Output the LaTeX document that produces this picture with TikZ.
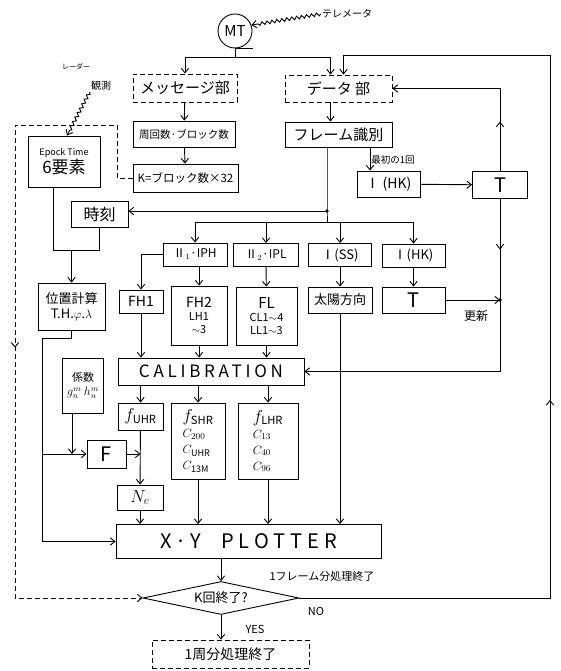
\documentclass[tikz,border=0pt]{standalone}
\usepackage{amsmath}
\usepackage{fontspec}
\setmainfont{Noto Sans CJK JP}
\usetikzlibrary{arrows.meta,shapes.geometric,decorations.pathmorphing,decorations.markings}
\newcommand{\fsz}[2]{\fontsize{#1}{#2}\selectfont}
\tikzset{
  box/.style={draw,line width=0.9pt,inner sep=1pt,align=center,font=\fsz{13}{15}},
  dbox/.style={box,dash pattern=on 5pt off 3pt},
  lbl/.style={inner sep=1pt,font=\fsz{10}{12}},
  midarrow/.style={postaction={decorate,decoration={markings,mark=at position #1 with {\arrow{>}}}}},
  wave/.style={decorate,decoration={snake,amplitude=1.6pt,segment length=5pt,post length=5pt}}
}
\begin{document}
\begin{tikzpicture}[x=1pt,y=-1pt,>={Straight Barb[length=1.6mm,width=2.6mm]},line width=0.9pt]
\useasboundingbox (0,0) rectangle (561,671);
\node[draw,circle,minimum size=34pt,inner sep=0pt,font=\fsz{15}{15}] (mt) at (235,31) {MT};
\node[lbl] (tele) at (347,14) {テレメータ};
\node[lbl,font=\fsz{7}{8}] (rdr1) at (76,67) {レーダー};
\node[lbl] (rdr2) at (101,86) {観測};
\node[dbox,minimum width=104pt,minimum height=28pt,font=\fsz{15}{15}] (msg) at (185,88) {メッセージ部};
\node[dbox,minimum width=107pt,minimum height=27pt,font=\fsz{15}{15}] (dat) at (338.5,88.5) {データ\ 部};
\node[box,minimum width=102pt,minimum height=26pt,font=\fsz{10.5}{12}] (cnt) at (184,134) {周回数·ブロック数};
\node[box,minimum width=105pt,minimum height=28pt,font=\fsz{11.5}{12}] (kk) at (185.5,178) {K=ブロック数×32};
\node[box,minimum width=107pt,minimum height=25pt,font=\fsz{15}{15}] (frm) at (338.5,134.5) {フレーム識別};
\node[box,minimum width=63pt,minimum height=26pt,font=\fsz{14}{14}] (hk1) at (388.5,184) {Ⅰ (HK)};
\node[box,minimum width=55pt,minimum height=27pt,font=\fsz{20}{20}] (t1) at (500,185) {T};
\node[box,minimum width=72pt,minimum height=51pt] (epo) at (64,161.5) {{\fsz{9}{12}Epock Time}\\{\fsz{17}{19}6要素}};
\node[box,minimum width=57pt,minimum height=26pt,font=\fsz{16}{16}] (jkk) at (99.5,214) {時刻};
\node[box,minimum width=64pt,minimum height=23pt,font=\fsz{12}{12}] (ii1) at (195,254.5) {Ⅱ$_1$·IPH};
\node[box,minimum width=65pt,minimum height=23pt,font=\fsz{12}{12}] (ii2) at (266,255) {Ⅱ$_2$·IPL};
\node[box,minimum width=63pt,minimum height=23pt,font=\fsz{13}{13}] (iss) at (340,255) {Ⅰ(SS)};
\node[box,minimum width=63pt,minimum height=23pt,font=\fsz{13}{13}] (ihk) at (413.5,255.5) {Ⅰ(HK)};
\node[box,minimum width=67pt,minimum height=47pt] (pos) at (71.5,306.5) {位置計算\\T.H.$\varphi$.$\lambda$};
\node[box,minimum width=44pt,minimum height=23pt,font=\fsz{14}{14}] (fh1) at (141,301.5) {FH1};
\node[box,minimum width=56pt,minimum height=59pt,font=\fsz{11}{13}] (fh2) at (199,315.5) {{\fsz{14}{16}FH2}\\LH1\\$\sim$3};
\node[box,minimum width=61pt,minimum height=58pt,font=\fsz{11}{13}] (fl) at (266.5,316) {{\fsz{15}{16}FL}\\CL1$\sim$4\\LL1$\sim$3};
\node[box,minimum width=64pt,minimum height=26pt,font=\fsz{13}{13}] (sun) at (340,300) {太陽方向};
\node[box,minimum width=63pt,minimum height=26pt,font=\fsz{20}{20}] (t2) at (413.5,300) {T};
\node[lbl,font=\fsz{12}{12}] (updl) at (476,316) {更新};
\node[box,minimum width=186pt,minimum height=27pt,font=\fsz{17}{17}\addfontfeatures{LetterSpace=22}] (cal) at (211,371.5) {CALIBRATION};
\node[box,minimum width=41pt,minimum height=55pt,font=\fsz{12}{14}] (coef) at (83,385.5) {{\fsz{11}{14}係数}\\$g_n^m$\ $h_n^m$};
\node[box,minimum width=45pt,minimum height=27pt,font=\fsz{16}{16}] (fu) at (140.5,416.5) {$f_{\mathrm{UHR}}$};
\node[box,minimum width=54pt,minimum height=76pt,align=left,font=\fsz{13}{16}] (fs) at (198,441) {{\fsz{16}{18}$f_{\mathrm{SHR}}$}\\$C_{200}$\\$C_{\mathrm{UHR}}$\\$C_{\mathrm{13M}}$};
\node[box,minimum width=60pt,minimum height=76pt,align=left,font=\fsz{13}{16}] (flh) at (268,441) {{\fsz{16}{18}$f_{\mathrm{LHR}}$}\\$C_{13}$\\$C_{40}$\\$C_{96}$};
\node[box,minimum width=39pt,minimum height=28pt,font=\fsz{20}{20}] (ff) at (106.5,454) {F};
\node[box,minimum width=46pt,minimum height=25pt,font=\fsz{17}{17}] (ne) at (140,497.5) {$N_e$};
\node[box,minimum width=265pt,minimum height=34pt,font=\fsz{20}{20}\addfontfeatures{LetterSpace=25}] (xy) at (248.5,541.5) {X·Y\quad PLOTTER};
\node[lbl,font=\fsz{11}{11}] (fml) at (322,576) {1フレーム分処理終了};
\node[draw,diamond,aspect=4.7,minimum width=156pt,minimum height=33pt,inner sep=0pt,font=\fsz{13}{13}] (dia) at (221,598) {K回終了?};
\node[lbl,font=\fsz{11}{11}] (nol) at (316,611) {NO};
\node[lbl,font=\fsz{11}{11}] (yesl) at (255,629) {YES};
\node[dbox,minimum width=157pt,minimum height=28pt,font=\fsz{14}{14}] (fin) at (230.5,654) {1周分処理終了};
\coordinate (mtb) at (235,57);
\coordinate (jn) at (327,211);
\coordinate (bus) at (327,222);
\coordinate (fst) at (370,160);
\coordinate (rt) at (550,55);
\coordinate (ej) at (75,250);
\coordinate (pc) at (42,338);
\coordinate (dk) at (117,125);
\coordinate (dl) at (15,125);
\node[lbl,right,font=\fsz{9.5}{10}] (fstl) at (fst) {最初の1回};
\draw (mt.south) -- ++(18,0);
\draw[->,wave] (tele.west) -- (mt.20);
\draw[->,wave] (rdr2.south west) -- ([xshift=3pt]epo.north);
\draw[->] (mt.south) -- (mtb) -| (msg.north);
\draw[->] (mtb) -| ([xshift=-8pt]dat.north);
\draw[->] (msg) -- (cnt);
\draw[->] (cnt) -- (kk);
\draw[->] ([xshift=-8pt]dat.south) -- ([xshift=-8pt]frm.north);
\draw (frm.south -| jn) -- (jn) -- (bus);
\fill (jn) circle (1.8pt);
\draw[->] (jn) -- (jn -| jkk.east);
\draw[->] (bus) -| (ii1.north);
\draw[->] (bus) -| (ii2.north);
\draw[->] (bus) -| (iss.north);
\draw[->] (bus) -| (ihk.north);
\draw[->] (frm.south -| fst) -- (hk1.north -| fst);
\draw[->] (hk1) -- (t1);
\draw[midarrow=0.6] (t1.north) -- (t1.north |- dat.east);
\draw[->] (t1.north |- dat.east) -- (dat.east);
\coordinate (upd) at (t1.south |- t2.east);
\draw[midarrow=0.5] (t1.south) -- (upd);
\fill (upd) circle (1.8pt);
\draw[->] (t2) -- (upd);
\draw[->] (upd) |- (cal.east);
\draw[->,midarrow=0.44] (dia.east) -| (rt) -| ([xshift=5pt]dat.north);
\draw[->,dash pattern=on 5pt off 3pt,midarrow=0.51] (kk.west) -| (dk) -- (dl) |- (dia.west);
\draw ([xshift=-11pt]epo.south) |- (jkk.south |- ej) -- (jkk.south);
\draw[->] (pos.north |- ej) -- (pos.north);
\draw[->] (pos.south) |- (pc) |- (xy.west);
\draw[->] (pc |- ff.west) -- (ff.west);
\draw[->] ([xshift=-11pt]coef.south) -- ([xshift=-11pt]coef.south |- ff.west);
\draw[->] (ff.east) -- (ff.east -| fu.south);
\draw[->] (fu) -- (ne);
\draw[->] (ne) -- (ne |- xy.north);
\draw[->] (ii1.west) -| (fh1.north);
\draw[->] (ii1.south -| fh2) -- (fh2.north);
\draw[->] (ii2) -- (fl);
\draw[->] (iss) -- (sun);
\draw[->] (ihk) -- (t2);
\draw[->] (fh1) -- (fh1 |- cal.north);
\draw[->] (fh2) -- (fh2 |- cal.north);
\draw[->] (fl) -- (fl |- cal.north);
\draw[->] (cal.south -| fu) -- (fu);
\draw[->] (cal.south -| fs) -- (fs);
\draw[->] (cal.south -| flh) -- (flh);
\draw[->] (sun) -- (sun |- xy.north);
\draw[->] (fs) -- (fs |- xy.north);
\draw[->] (flh) -- (flh |- xy.north);
\draw[->] (dia.north |- xy.south) -- (dia.north);
\draw[->] (dia.south) -- (dia.south |- fin.north);
\end{tikzpicture}
\end{document}
